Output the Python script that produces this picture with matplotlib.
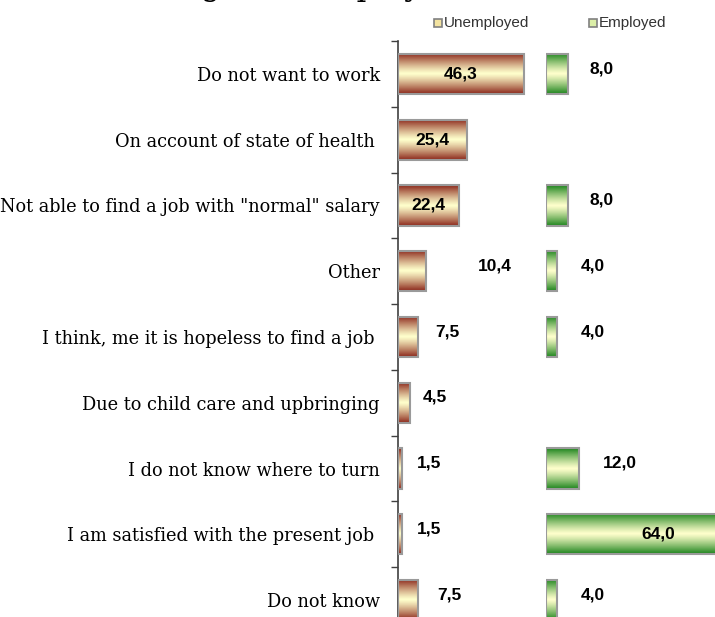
import numpy as np
import matplotlib.pyplot as plt
from matplotlib.patches import Rectangle

# data
categories = ['Do not want to work',
              'On account of state of health ',
              'Not able to find a job with "normal" salary',
              'Other',
              'I think, me it is hopeless to find a job ',
              'Due to child care and upbringing',
              'I do not know where to turn',
              'I am satisfied with the present job ',
              'Do not know']
unemployed = [46.3, 25.4, 22.4, 10.4, 7.5, 4.5, 1.5, 1.5, 7.5]
employed = [8.0, None, 8.0, 4.0, 4.0, None, 12.0, 64.0, 4.0]

# label placement: None = centred inside the bar, number = px right of bar end
unemp_pad = [None, None, None, 52, 17, 13, 15, 15, 19]
emp_pad = [22, None, 22, 24, 24, None, 24, 'in', 24]

W, H = 715, 617
DPI = 100
PX = 2.72          # pixels per unit
AX_X = 398         # left axis
EMP_X = 546        # start of employed bars
ROW0, ROW = 74, 65.75

fig = plt.figure(figsize=(W / DPI, H / DPI), dpi=DPI)
top = ROW0 - ROW / 2
bottom = top + ROW * len(categories)
ax1 = fig.add_axes([AX_X / W, 1 - bottom / H, (EMP_X - AX_X) / W, (bottom - top) / H])
ax2 = fig.add_axes([EMP_X / W, 1 - bottom / H, (W - EMP_X) / W, (bottom - top) / H])


def gradient(edge, mid=(1.0, 1.0, 0.80), n=64):
    t = np.abs(np.linspace(-1, 1, n))
    w = np.clip(t ** 1.2, 0, 1)
    edge = np.array(edge)
    mid = np.array(mid)
    return (mid[None, :] * (1 - w[:, None]) + edge[None, :] * w[:, None])[:, None, :]


red = gradient((0.55, 0.16, 0.11))
green = gradient((0.12, 0.52, 0.12))
bh = 0.61


def draw_bar(ax, i, v, img):
    ax.imshow(img, extent=[0, v, i + bh / 2, i - bh / 2], aspect='auto',
              interpolation='bilinear', zorder=2)
    ax.add_patch(Rectangle((0, i - bh / 2), v, bh, fill=False,
                           edgecolor='#9a9a9a', lw=1.5, zorder=3))


lab_font = dict(family='Liberation Sans', fontsize=12.5, fontweight='bold', color='black')


def fmt(v):
    return f'{v:.1f}'.replace('.', ',')


for i, v in enumerate(unemployed):
    draw_bar(ax1, i, v, red)
    if unemp_pad[i] is None:
        ax1.text(v / 2, i, fmt(v), ha='center', va='center', zorder=4, **lab_font)
    else:
        ax1.annotate(fmt(v), xy=(v, i - 0.08),
                     xytext=(unemp_pad[i] * 0.72, 0), textcoords='offset points',
                     ha='left', va='center', annotation_clip=False, **lab_font)

for i, v in enumerate(employed):
    if v is None:
        continue
    draw_bar(ax2, i, v, green)
    if emp_pad[i] == 'in':
        ax2.annotate(fmt(v), xy=(v, i),
                     xytext=(-45 * 0.72, 0), textcoords='offset points',
                     ha='right', va='center', zorder=4, annotation_clip=False, **lab_font)
    else:
        ax2.annotate(fmt(v), xy=(v, i - 0.08),
                     xytext=(emp_pad[i] * 0.72, 0), textcoords='offset points',
                     ha='left', va='center', annotation_clip=False, **lab_font)

n = len(categories)
for ax, w in ((ax1, EMP_X - AX_X), (ax2, W - EMP_X)):
    ax.set_xlim(0, w / PX)
    ax.set_ylim(n - 0.5, -0.5)
    ax.set_xticks([])
    for s in ax.spines.values():
        s.set_visible(False)

ax2.set_yticks([])
ax1.spines['left'].set_visible(True)
ax1.spines['left'].set_color('#404040')
ax1.spines['left'].set_linewidth(1.2)
ax1.set_yticks(range(n))
ax1.set_yticklabels(categories, family='DejaVu Serif', fontsize=12.8)
ax1.tick_params(axis='y', which='major', length=0, pad=13)
ax1.set_yticks(np.arange(-0.5, n, 1), minor=True)
ax1.tick_params(axis='y', which='minor', length=5, width=1, color='#404040')

# legend
for x0, fc, ec, txt in ((434, '#f3e3a0', '#8a6a50', 'Unemployed'),
                        (589, '#dcefa8', '#6a8a50', 'Employed')):
    fig.patches.append(Rectangle((x0 / W, 1 - 27 / H), 8 / W, 8 / H, transform=fig.transFigure,
                                 facecolor=fc, edgecolor='#808080', lw=1.2))
    fig.text((x0 + 10) / W, 1 - 22.5 / H, txt, family='Liberation Sans', fontsize=11,
             color='#333333', va='center', ha='left')

# title, mostly cropped off the top
fig.text(-58 / W, 1 + 4.5 / H, 'Reasons for being of unemployed', family='DejaVu Serif',
         fontsize=22, va='baseline', ha='left')

fig.savefig('out.png', dpi=DPI)
